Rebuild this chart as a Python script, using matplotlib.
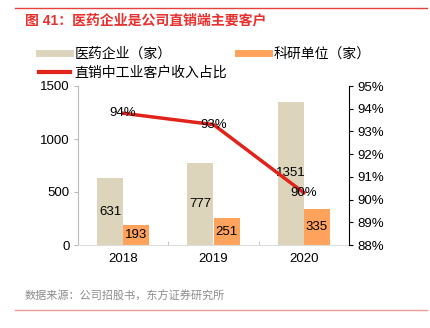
import numpy as np
import matplotlib
matplotlib.use('Agg')
import matplotlib.pyplot as plt
from matplotlib.lines import Line2D

plt.rcParams['font.family'] = ['Liberation Sans', 'Noto Sans CJK SC', 'DejaVu Sans']

years = ['2018', '2019', '2020']
pharma = [631, 777, 1351]
research = [193, 251, 335]
share = [93.8, 93.3, 90.3]
share_labels = ['94%', '93%', '90%']

beige = '#DDD4BC'
orange = '#FFA35C'
red = '#E2231A'

fig = plt.figure(figsize=(4.3, 3.28), dpi=100)
ax = fig.add_axes([78 / 430, 1 - 245 / 328, (349 - 78) / 430, (245 - 86) / 328])
ax2 = ax.twinx()

x = np.arange(len(years))
w = 0.29
b1 = ax.bar(x - w / 2, pharma, w, color=beige, zorder=2)
b2 = ax.bar(x + w / 2, research, w, color=orange, zorder=2)
for rect, v in zip(list(b1) + list(b2), pharma + research):
    ax.text(rect.get_x() + rect.get_width() / 2, v / 2, str(v),
            ha='center', va='center', fontsize=9.5, color='black', zorder=5)

ax.set_xlim(-0.5, 2.5)
ax.set_ylim(0, 1500)
ax.set_yticks([0, 500, 1000, 1500])
ax.set_xticks(x)
ax.set_xticklabels(years)
ax.set_xticks([0.5, 1.5], minor=True)
ax.tick_params(axis='x', which='major', length=0, labelsize=9.5, pad=6)
ax.tick_params(axis='x', which='minor', length=3, direction='in', color='#BBBBBB')
ax.tick_params(axis='y', labelsize=9.5, length=3, color='#BBBBBB', pad=3)
for s in ['top', 'right']:
    ax.spines[s].set_visible(False)
ax.spines['left'].set_color('#BBBBBB')
ax.spines['bottom'].set_color('#DDDDDD')

ax2.plot(x, share, color=red, lw=2.5, zorder=3)
for xi, v, t in zip(x, share, share_labels):
    ax2.text(xi, v, t, ha='center', va='center', fontsize=9.5, color='black', zorder=6)
ax2.set_ylim(88, 95)
ax2.set_yticks(range(88, 96))
ax2.set_yticklabels([f'{v}%' for v in range(88, 96)])
ax2.tick_params(axis='y', labelsize=9.5, length=3, pad=3)
for s in ['top', 'left', 'bottom']:
    ax2.spines[s].set_visible(False)
ax2.spines['right'].set_color('black')

# legend handles drawn as thick strokes
h1 = Line2D([], [], color=beige, lw=5)
h2 = Line2D([], [], color=orange, lw=5)
h3 = Line2D([], [], color=red, lw=3)
fig.legend([h1, h3, h2], ['医药企业（家）', '直销中工业客户收入占比', '科研单位（家）'],
           ncol=2, loc='upper left', bbox_to_anchor=(39 / 430, 1 - 47 / 328),
           frameon=False, fontsize=10, handlelength=2.2, handletextpad=0.35,
           columnspacing=0.8, labelspacing=0.35, borderaxespad=0, borderpad=0)

fig.text(25 / 430, 1 - 20 / 328, '图 41：医药企业是公司直销端主要客户',
         color='#E8312F', fontsize=10, fontweight='bold', va='center', ha='left')
fig.text(25 / 430, 1 - 296 / 328, '数据来源：公司招股书，东方证券研究所',
         color='#8C8C8C', fontsize=8, va='center', ha='left')
fig.add_artist(Line2D([15 / 430, 427 / 430], [1 - 8 / 328, 1 - 8 / 328], color='#E8403A', lw=1))
fig.add_artist(Line2D([15 / 430, 427 / 430], [1 - 310 / 328, 1 - 310 / 328], color='#EE9A96', lw=1))

fig.savefig('out.png', dpi=100)
